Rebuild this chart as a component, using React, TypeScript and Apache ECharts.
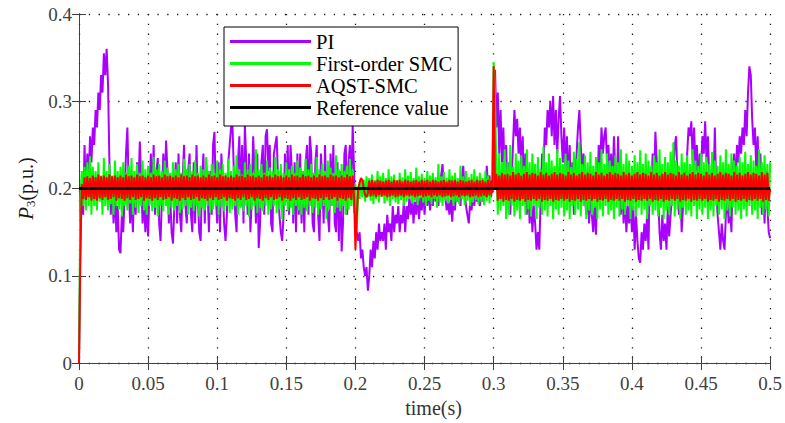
import { useEffect, useRef } from "react";
import * as echarts from "echarts";

const DT = 0.001;

const xTicks = ["0", "0.05", "0.1", "0.15", "0.2", "0.25", "0.3", "0.35", "0.4", "0.45", "0.5"];
const yTicks = ["0", "0.1", "0.2", "0.3", "0.4"];

const seriesNames = ["PI", "First-order SMC", "AQST-SMC", "Reference value"];

// PI response, sampled every 1 ms
const piValues = [
  0, 0.15, 0.2, 0.17, 0.25, 0.19, 0.24, 0.21, 0.26, 0.23,
  0.27, 0.25, 0.29, 0.27, 0.31, 0.29, 0.33, 0.31, 0.355, 0.33,
  0.36, 0.32, 0.23, 0.17, 0.21, 0.16, 0.2, 0.15, 0.18, 0.13,
  0.126, 0.17, 0.15, 0.19, 0.24, 0.27, 0.2, 0.16, 0.19, 0.15,
  0.21, 0.17, 0.23, 0.2, 0.254, 0.21, 0.16, 0.19, 0.15, 0.18,
  0.145, 0.2, 0.24, 0.19, 0.25, 0.17, 0.22, 0.235, 0.16, 0.14,
  0.19, 0.24, 0.2, 0.255, 0.22, 0.16, 0.19, 0.15, 0.137, 0.18,
  0.23, 0.16, 0.24, 0.17, 0.15, 0.21, 0.25, 0.18, 0.16, 0.22,
  0.24, 0.17, 0.15, 0.23, 0.16, 0.25, 0.19, 0.15, 0.14, 0.21,
  0.24, 0.16, 0.23, 0.2, 0.15, 0.22, 0.17, 0.25, 0.265, 0.19,
  0.16, 0.23, 0.15, 0.24, 0.2, 0.16, 0.14, 0.17, 0.23, 0.25,
  0.27, 0.274, 0.22, 0.17, 0.15, 0.23, 0.26, 0.18, 0.25, 0.16,
  0.274, 0.23, 0.17, 0.24, 0.15, 0.19, 0.26, 0.22, 0.16, 0.24,
  0.132, 0.16, 0.23, 0.25, 0.17, 0.26, 0.268, 0.22, 0.25, 0.16,
  0.15, 0.24, 0.25, 0.26, 0.21, 0.17, 0.15, 0.14, 0.17, 0.24,
  0.19, 0.25, 0.17, 0.25, 0.22, 0.16, 0.23, 0.15, 0.24, 0.17,
  0.24, 0.16, 0.22, 0.15, 0.23, 0.25, 0.17, 0.26, 0.24, 0.16,
  0.15, 0.23, 0.25, 0.17, 0.14, 0.24, 0.21, 0.16, 0.25, 0.18,
  0.17, 0.15, 0.24, 0.19, 0.25, 0.16, 0.15, 0.23, 0.14, 0.22,
  0.128, 0.16, 0.24, 0.25, 0.17, 0.23, 0.25, 0.2, 0.272, 0.22,
  0.16, 0.15, 0.14, 0.15, 0.12, 0.13, 0.11, 0.1, 0.11, 0.083,
  0.1, 0.13, 0.11, 0.14, 0.12, 0.15, 0.13, 0.16, 0.14, 0.15,
  0.14, 0.16, 0.13, 0.17, 0.15, 0.16, 0.14, 0.18, 0.15, 0.17,
  0.16, 0.18, 0.15, 0.17, 0.16, 0.185, 0.15, 0.18, 0.165, 0.19,
  0.17, 0.19, 0.16, 0.185, 0.17, 0.195, 0.165, 0.19, 0.175, 0.2,
  0.17, 0.195, 0.18, 0.2, 0.175, 0.195, 0.18, 0.205, 0.185, 0.2,
  0.18, 0.2, 0.215, 0.228, 0.2, 0.19, 0.175, 0.185, 0.17, 0.19,
  0.162, 0.19, 0.175, 0.2, 0.185, 0.195, 0.18, 0.21, 0.226, 0.195,
  0.18, 0.17, 0.16, 0.185, 0.175, 0.195, 0.18, 0.2, 0.185, 0.19,
  0.18, 0.195, 0.185, 0.205, 0.19, 0.226, 0.2, 0.215, 0.19, 0.2,
  0.2, 0.336, 0.27, 0.31, 0.24, 0.29, 0.23, 0.27, 0.21, 0.25,
  0.19, 0.23, 0.17, 0.21, 0.25, 0.29, 0.26, 0.28, 0.24, 0.27,
  0.22, 0.26, 0.2, 0.24, 0.17, 0.21, 0.16, 0.19, 0.15, 0.18,
  0.16, 0.13, 0.15, 0.13, 0.19, 0.24, 0.22, 0.27, 0.25, 0.29,
  0.27, 0.3, 0.26, 0.306, 0.25, 0.29, 0.24, 0.28, 0.306, 0.26,
  0.23, 0.27, 0.22, 0.26, 0.2, 0.25, 0.19, 0.23, 0.17, 0.21,
  0.24, 0.27, 0.29, 0.25, 0.22, 0.24, 0.19, 0.17, 0.2, 0.16,
  0.19, 0.17, 0.15, 0.18, 0.147, 0.2, 0.25, 0.22, 0.27, 0.24,
  0.26, 0.27, 0.23, 0.25, 0.21, 0.24, 0.2, 0.26, 0.22, 0.19,
  0.26, 0.2, 0.17, 0.21, 0.16, 0.19, 0.15, 0.18, 0.16, 0.19,
  0.15, 0.18, 0.13, 0.17, 0.14, 0.12, 0.115, 0.15, 0.13, 0.16,
  0.14, 0.17, 0.13, 0.22, 0.19, 0.24, 0.21, 0.265, 0.23, 0.19,
  0.15, 0.13, 0.17, 0.14, 0.16, 0.13, 0.18, 0.145, 0.17, 0.19,
  0.22, 0.25, 0.26, 0.21, 0.17, 0.2, 0.15, 0.18, 0.22, 0.2,
  0.24, 0.27, 0.26, 0.277, 0.23, 0.27, 0.22, 0.25, 0.2, 0.24,
  0.22, 0.26, 0.24, 0.277, 0.23, 0.26, 0.21, 0.18, 0.23, 0.2,
  0.27, 0.2, 0.17, 0.15, 0.13, 0.16, 0.14, 0.13, 0.17, 0.19,
  0.16, 0.18, 0.15, 0.22, 0.24, 0.2, 0.25, 0.23, 0.26, 0.24,
  0.27, 0.25, 0.29, 0.26, 0.31, 0.34, 0.33, 0.28, 0.25, 0.27,
  0.22, 0.26, 0.2, 0.24, 0.17, 0.2, 0.16, 0.22, 0.18, 0.15,
  0.143,
];

// First-order SMC response, sampled every 1 ms
const smcValues = [
  0, 0.19, 0.22, 0.18, 0.225, 0.175, 0.23, 0.18, 0.237, 0.17,
  0.225, 0.18, 0.22, 0.175, 0.23, 0.185, 0.215, 0.17, 0.235, 0.18,
  0.22, 0.175, 0.228, 0.182, 0.215, 0.17, 0.232, 0.18, 0.22, 0.176,
  0.225, 0.168, 0.23, 0.18, 0.218, 0.175, 0.226, 0.183, 0.235, 0.17,
  0.22, 0.178, 0.228, 0.172, 0.218, 0.18, 0.232, 0.175, 0.222, 0.17,
  0.226, 0.18, 0.218, 0.174, 0.236, 0.178, 0.222, 0.168, 0.228, 0.18,
  0.22, 0.174, 0.232, 0.18, 0.224, 0.17, 0.218, 0.178, 0.23, 0.175,
  0.222, 0.18, 0.228, 0.172, 0.218, 0.176, 0.234, 0.18, 0.222, 0.17,
  0.228, 0.178, 0.22, 0.174, 0.232, 0.18, 0.218, 0.168, 0.226, 0.178,
  0.222, 0.175, 0.236, 0.18, 0.22, 0.172, 0.228, 0.176, 0.218, 0.18,
  0.232, 0.17, 0.222, 0.178, 0.228, 0.174, 0.218, 0.18, 0.234, 0.172,
  0.22, 0.176, 0.226, 0.18, 0.238, 0.17, 0.222, 0.178, 0.216, 0.174,
  0.23, 0.18, 0.222, 0.168, 0.228, 0.176, 0.218, 0.18, 0.245, 0.172,
  0.222, 0.178, 0.228, 0.174, 0.218, 0.18, 0.232, 0.17, 0.224, 0.176,
  0.22, 0.18, 0.236, 0.172, 0.222, 0.176, 0.228, 0.165, 0.218, 0.18,
  0.23, 0.174, 0.222, 0.178, 0.226, 0.17, 0.218, 0.18, 0.232, 0.175,
  0.224, 0.17, 0.22, 0.178, 0.234, 0.174, 0.222, 0.18, 0.228, 0.172,
  0.218, 0.178, 0.236, 0.17, 0.222, 0.176, 0.228, 0.18, 0.22, 0.165,
  0.232, 0.176, 0.224, 0.18, 0.218, 0.172, 0.238, 0.178, 0.222, 0.174,
  0.228, 0.18, 0.22, 0.17, 0.226, 0.176, 0.234, 0.18, 0.222, 0.172,
  0.205, 0.15, 0.2, 0.188, 0.212, 0.19, 0.21, 0.185, 0.214, 0.19,
  0.212, 0.186, 0.216, 0.182, 0.21, 0.188, 0.22, 0.184, 0.214, 0.19,
  0.218, 0.183, 0.212, 0.186, 0.222, 0.18, 0.214, 0.188, 0.216, 0.184,
  0.21, 0.182, 0.218, 0.187, 0.213, 0.18, 0.222, 0.185, 0.215, 0.188,
  0.219, 0.183, 0.212, 0.186, 0.224, 0.181, 0.214, 0.189, 0.217, 0.184,
  0.212, 0.18, 0.22, 0.186, 0.215, 0.182, 0.218, 0.188, 0.213, 0.178,
  0.228, 0.184, 0.214, 0.18, 0.219, 0.186, 0.212, 0.183, 0.222, 0.187,
  0.215, 0.18, 0.218, 0.185, 0.212, 0.182, 0.226, 0.188, 0.214, 0.181,
  0.22, 0.186, 0.213, 0.18, 0.217, 0.184, 0.222, 0.187, 0.214, 0.182,
  0.218, 0.185, 0.212, 0.181, 0.22, 0.186, 0.215, 0.183, 0.21, 0.195,
  0.345, 0.3, 0.22, 0.17, 0.24, 0.175, 0.23, 0.18, 0.245, 0.165,
  0.23, 0.17, 0.25, 0.18, 0.225, 0.168, 0.24, 0.175, 0.232, 0.165,
  0.238, 0.18, 0.226, 0.17, 0.245, 0.176, 0.23, 0.168, 0.24, 0.18,
  0.228, 0.165, 0.236, 0.178, 0.222, 0.17, 0.248, 0.175, 0.23, 0.168,
  0.24, 0.18, 0.232, 0.165, 0.226, 0.176, 0.245, 0.17, 0.235, 0.178,
  0.228, 0.168, 0.24, 0.175, 0.232, 0.165, 0.225, 0.18, 0.242, 0.17,
  0.234, 0.176, 0.253, 0.168, 0.228, 0.18, 0.238, 0.165, 0.23, 0.175,
  0.242, 0.17, 0.226, 0.178, 0.236, 0.165, 0.23, 0.176, 0.245, 0.168,
  0.228, 0.18, 0.24, 0.17, 0.232, 0.175, 0.226, 0.165, 0.238, 0.178,
  0.23, 0.168, 0.245, 0.176, 0.228, 0.17, 0.24, 0.18, 0.232, 0.165,
  0.226, 0.175, 0.238, 0.168, 0.23, 0.178, 0.244, 0.17, 0.228, 0.176,
  0.24, 0.165, 0.232, 0.18, 0.226, 0.17, 0.238, 0.175, 0.23, 0.168,
  0.245, 0.178, 0.228, 0.165, 0.236, 0.175, 0.23, 0.17, 0.242, 0.18,
  0.253, 0.168, 0.232, 0.176, 0.226, 0.165, 0.24, 0.178, 0.23, 0.17,
  0.238, 0.175, 0.228, 0.168, 0.245, 0.18, 0.232, 0.165, 0.226, 0.176,
  0.24, 0.17, 0.23, 0.178, 0.236, 0.165, 0.228, 0.175, 0.242, 0.168,
  0.232, 0.18, 0.226, 0.17, 0.238, 0.176, 0.23, 0.165, 0.245, 0.175,
  0.228, 0.168, 0.24, 0.178, 0.232, 0.17, 0.226, 0.175, 0.236, 0.165,
  0.23, 0.176, 0.242, 0.168, 0.228, 0.18, 0.238, 0.17, 0.232, 0.175,
  0.226, 0.165, 0.245, 0.178, 0.23, 0.17, 0.238, 0.176, 0.228, 0.168,
  0.23,
];

// AQST-SMC response, sampled every 1 ms
const aqstValues = [
  0, 0.12, 0.205, 0.188, 0.213, 0.187, 0.214, 0.19, 0.212, 0.186,
  0.215, 0.188, 0.213, 0.186, 0.216, 0.189, 0.214, 0.187, 0.215, 0.19,
  0.213, 0.187, 0.216, 0.188, 0.214, 0.19, 0.215, 0.186, 0.213, 0.189,
  0.215, 0.188, 0.213, 0.186, 0.216, 0.189, 0.214, 0.187, 0.215, 0.19,
  0.213, 0.187, 0.216, 0.188, 0.214, 0.19, 0.215, 0.186, 0.213, 0.189,
  0.215, 0.188, 0.213, 0.186, 0.216, 0.189, 0.214, 0.187, 0.215, 0.19,
  0.213, 0.187, 0.216, 0.188, 0.214, 0.19, 0.215, 0.186, 0.213, 0.189,
  0.215, 0.188, 0.213, 0.186, 0.216, 0.189, 0.214, 0.187, 0.215, 0.19,
  0.213, 0.187, 0.216, 0.188, 0.214, 0.19, 0.215, 0.186, 0.213, 0.189,
  0.215, 0.188, 0.213, 0.186, 0.216, 0.189, 0.214, 0.187, 0.215, 0.19,
  0.213, 0.187, 0.216, 0.188, 0.214, 0.19, 0.215, 0.186, 0.213, 0.189,
  0.215, 0.188, 0.213, 0.186, 0.216, 0.189, 0.214, 0.187, 0.215, 0.19,
  0.213, 0.187, 0.216, 0.188, 0.214, 0.19, 0.215, 0.186, 0.213, 0.189,
  0.215, 0.188, 0.213, 0.186, 0.216, 0.189, 0.214, 0.187, 0.215, 0.19,
  0.213, 0.187, 0.216, 0.188, 0.214, 0.19, 0.215, 0.186, 0.213, 0.189,
  0.215, 0.188, 0.213, 0.186, 0.216, 0.189, 0.214, 0.187, 0.215, 0.19,
  0.213, 0.187, 0.216, 0.188, 0.214, 0.19, 0.215, 0.186, 0.213, 0.189,
  0.215, 0.188, 0.213, 0.186, 0.216, 0.189, 0.214, 0.187, 0.215, 0.19,
  0.213, 0.187, 0.216, 0.188, 0.214, 0.19, 0.215, 0.186, 0.213, 0.189,
  0.215, 0.188, 0.213, 0.186, 0.216, 0.189, 0.214, 0.187, 0.215, 0.19,
  0.13, 0.17, 0.2, 0.207, 0.212, 0.21, 0.2, 0.193, 0.19, 0.195,
  0.209, 0.191, 0.21, 0.192, 0.208, 0.19, 0.21, 0.192, 0.209, 0.191,
  0.208, 0.192, 0.209, 0.19, 0.21, 0.191, 0.208, 0.192, 0.21, 0.19,
  0.209, 0.191, 0.21, 0.192, 0.208, 0.19, 0.21, 0.192, 0.209, 0.191,
  0.208, 0.192, 0.209, 0.19, 0.21, 0.191, 0.208, 0.192, 0.21, 0.19,
  0.209, 0.191, 0.21, 0.192, 0.208, 0.19, 0.21, 0.192, 0.209, 0.191,
  0.208, 0.192, 0.209, 0.19, 0.21, 0.191, 0.208, 0.192, 0.21, 0.19,
  0.209, 0.191, 0.21, 0.192, 0.208, 0.19, 0.21, 0.192, 0.209, 0.191,
  0.208, 0.192, 0.209, 0.19, 0.21, 0.191, 0.208, 0.192, 0.21, 0.19,
  0.209, 0.191, 0.21, 0.192, 0.208, 0.19, 0.21, 0.192, 0.209, 0.195,
  0.34, 0.2, 0.217, 0.186, 0.215, 0.188, 0.218, 0.185, 0.216, 0.187,
  0.217, 0.186, 0.215, 0.188, 0.219, 0.185, 0.216, 0.187, 0.218, 0.186,
  0.215, 0.188, 0.217, 0.185, 0.219, 0.187, 0.216, 0.186, 0.218, 0.188,
  0.217, 0.186, 0.215, 0.188, 0.219, 0.185, 0.216, 0.187, 0.218, 0.186,
  0.215, 0.188, 0.217, 0.185, 0.219, 0.187, 0.216, 0.186, 0.218, 0.188,
  0.217, 0.186, 0.215, 0.188, 0.219, 0.185, 0.216, 0.187, 0.218, 0.186,
  0.215, 0.188, 0.217, 0.185, 0.219, 0.187, 0.216, 0.186, 0.218, 0.188,
  0.217, 0.186, 0.215, 0.188, 0.219, 0.185, 0.216, 0.187, 0.218, 0.186,
  0.215, 0.188, 0.217, 0.185, 0.219, 0.187, 0.216, 0.186, 0.218, 0.188,
  0.217, 0.186, 0.215, 0.188, 0.219, 0.185, 0.216, 0.187, 0.218, 0.186,
  0.215, 0.188, 0.217, 0.185, 0.219, 0.187, 0.216, 0.186, 0.218, 0.188,
  0.217, 0.186, 0.215, 0.188, 0.219, 0.185, 0.216, 0.187, 0.218, 0.186,
  0.215, 0.188, 0.217, 0.185, 0.219, 0.187, 0.216, 0.186, 0.218, 0.188,
  0.217, 0.186, 0.215, 0.188, 0.219, 0.185, 0.216, 0.187, 0.218, 0.186,
  0.215, 0.188, 0.217, 0.185, 0.219, 0.187, 0.216, 0.186, 0.218, 0.188,
  0.217, 0.186, 0.215, 0.188, 0.219, 0.185, 0.216, 0.187, 0.218, 0.186,
  0.215, 0.188, 0.217, 0.185, 0.219, 0.187, 0.216, 0.186, 0.218, 0.188,
  0.217, 0.186, 0.215, 0.188, 0.219, 0.185, 0.216, 0.187, 0.218, 0.186,
  0.215, 0.188, 0.217, 0.185, 0.219, 0.187, 0.216, 0.186, 0.218, 0.188,
  0.217, 0.186, 0.215, 0.188, 0.219, 0.185, 0.216, 0.187, 0.218, 0.186,
  0.2,
];

const refTimes = [0, 0.5];
const refValues = [0.2, 0.2];

const colors = ["#aa00ff", "#00ff00", "#ff0000", "#000000"];

const FONT = "Liberation Serif";

function toPairs(values: number[]) {
  return values.map((v, i) => [Number((i * DT).toFixed(4)), v]);
}

export default function App() {
  const ref = useRef<HTMLDivElement>(null);
  useEffect(() => {
    const chart = echarts.init(ref.current!, null, { renderer: "svg" });
    const axisLineStyle = { color: "#404040", width: 1 };
    const splitLine = {
      show: true,
      lineStyle: { color: "#1a1a1a", width: 1.3, type: [1.3, 8.5] as any },
    };
    const xMin = Number(xTicks[0]);
    const xMax = Number(xTicks[xTicks.length - 1]);
    const xInt = Number(xTicks[1]) - Number(xTicks[0]);
    const yMin = Number(yTicks[0]);
    const yMax = Number(yTicks[yTicks.length - 1]);
    const yInt = Number(yTicks[1]) - Number(yTicks[0]);
    const labelFmt = (ticks: string[]) => (v: number) => {
      const s = ticks.find((t) => Math.abs(Number(t) - v) < 1e-9);
      return s ?? "";
    };
    chart.setOption({
      animation: false,
      backgroundColor: "#ffffff",
      color: colors,
      textStyle: { fontFamily: FONT },
      grid: { left: 79, right: 9, top: 14, bottom: 57, containLabel: false },
      legend: {
        data: seriesNames,
        orient: "vertical",
        left: 224,
        top: 27,
        icon: "rect",
        itemWidth: 81,
        itemHeight: 3,
        itemGap: 1,
        padding: [4, 6, 8, 6],
        backgroundColor: "#ffffff",
        borderColor: "#000000",
        borderWidth: 1,
        borderRadius: 0,
        textStyle: { fontFamily: FONT, fontSize: 20.5, color: "#000000", lineHeight: 20 },
      },
      xAxis: [
        {
          type: "value",
          min: xMin,
          max: xMax,
          interval: xInt,
          name: "time(s)",
          nameLocation: "middle",
          nameGap: 33,
          nameTextStyle: { fontFamily: FONT, fontSize: 20, color: "#333333", padding: [0, 0, 0, 18] },
          axisLine: { show: true, lineStyle: axisLineStyle },
          axisTick: { show: true, inside: true, length: 7, lineStyle: axisLineStyle },
          axisLabel: { fontFamily: FONT, fontSize: 19, color: "#404040", margin: 11, formatter: labelFmt(xTicks) },
          splitLine,
        },
        {
          type: "value",
          position: "top",
          min: xMin,
          max: xMax,
          interval: xInt,
          axisLine: { show: true, lineStyle: axisLineStyle },
          axisTick: { show: true, inside: true, length: 7, lineStyle: axisLineStyle },
          axisLabel: { show: false },
          splitLine: { show: false },
        },
      ],
      yAxis: [
        {
          type: "value",
          min: yMin,
          max: yMax,
          interval: yInt,
          name: "{i|P}{s|3}(p.u.)",
          nameLocation: "middle",
          nameGap: 40,
          nameTextStyle: {
            fontFamily: FONT,
            fontSize: 20,
            color: "#1a1a1a",
            rich: {
              i: { fontFamily: FONT, fontSize: 21, fontStyle: "italic", color: "#1a1a1a" },
              s: { fontFamily: FONT, fontSize: 13, color: "#1a1a1a", padding: [10, 0, 0, 0] },
            },
          },
          axisLine: { show: true, lineStyle: axisLineStyle },
          axisTick: { show: true, inside: true, length: 7, lineStyle: axisLineStyle },
          axisLabel: { fontFamily: FONT, fontSize: 19, color: "#404040", margin: 7, formatter: labelFmt(yTicks) },
          splitLine,
        },
        {
          type: "value",
          position: "right",
          min: yMin,
          max: yMax,
          interval: yInt,
          axisLine: { show: true, lineStyle: axisLineStyle },
          axisTick: { show: true, inside: true, length: 7, lineStyle: axisLineStyle },
          axisLabel: { show: false },
          splitLine: { show: false },
        },
      ],
      series: [
        {
          name: seriesNames[0],
          type: "line",
          data: toPairs(piValues),
          showSymbol: false,
          lineStyle: { width: 2, color: colors[0] },
          itemStyle: { color: colors[0] },
          z: 2,
        },
        {
          name: seriesNames[1],
          type: "line",
          data: toPairs(smcValues),
          showSymbol: false,
          lineStyle: { width: 2, color: colors[1] },
          itemStyle: { color: colors[1] },
          z: 3,
        },
        {
          name: seriesNames[2],
          type: "line",
          data: toPairs(aqstValues),
          showSymbol: false,
          lineStyle: { width: 2, color: colors[2] },
          itemStyle: { color: colors[2] },
          z: 4,
        },
        {
          name: seriesNames[3],
          type: "line",
          data: refTimes.map((t, i) => [t, refValues[i]]),
          showSymbol: false,
          lineStyle: { width: 3, color: colors[3] },
          itemStyle: { color: colors[3] },
          z: 5,
        },
      ],
    });
    return () => chart.dispose();
  }, []);
  return (
    <div
      ref={ref}
      style={{ position: "fixed", left: 0, top: 0, width: 785, height: 423 }}
    />
  );
}
